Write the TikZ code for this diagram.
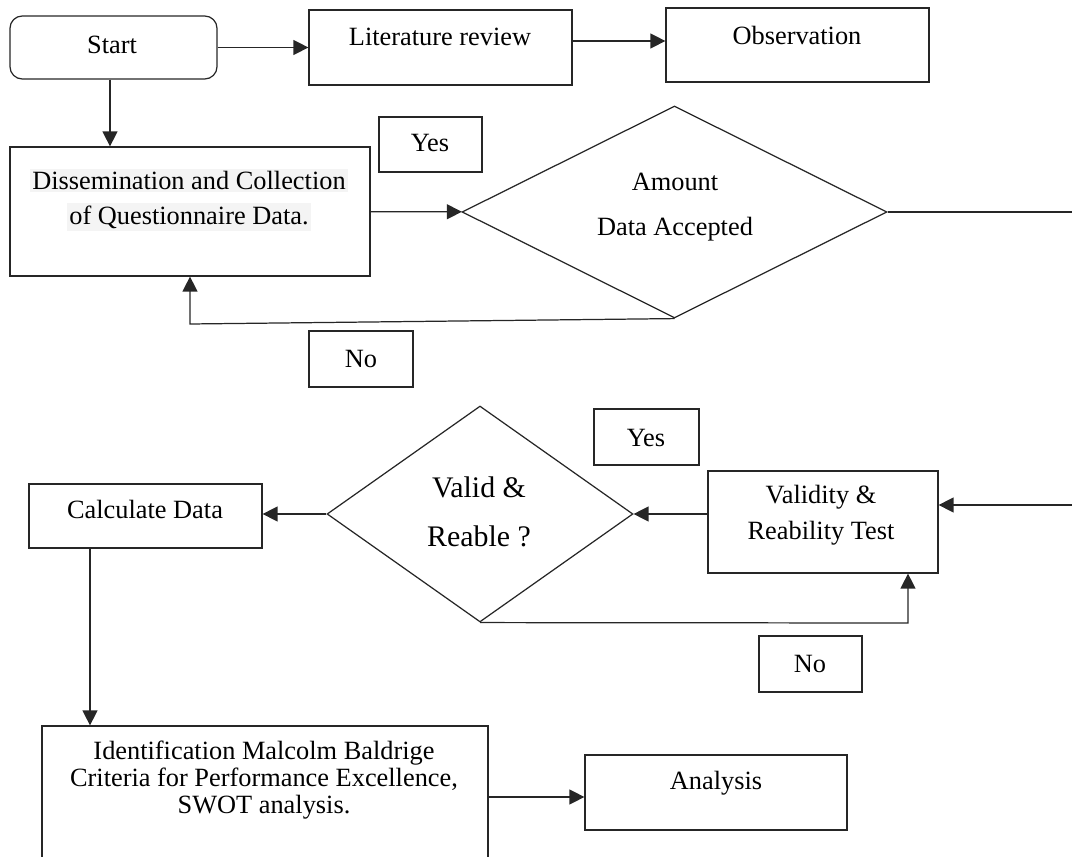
\documentclass[tikz,border=0pt]{standalone}
\usepackage{fontspec}
\setmainfont{Liberation Serif}
\usetikzlibrary{shapes.geometric,fit,arrows.meta}
\definecolor{realce}{RGB}{244,244,244}
\setlength{\fboxsep}{1.5pt}

\begin{document}
\begin{tikzpicture}[x=0.02cm, y=-0.02cm, >={Triangle[length=8.5pt,width=8.5pt]},
    caixa/.style={draw=black!85, rectangle, inner sep=0pt, line width=0.7pt},
    losango/.style={draw=black!85, diamond, inner sep=0pt, line width=0.7pt},
    texto/.style={font=\fontsize{15}{18}\selectfont, align=center, inner sep=0pt},
    seta/.style={->, draw=black!85, line width=0.7pt}]
    \clip (0,0) rectangle (1072,857);

    % Linha de cima
    \node[caixa, rounded corners=7pt, fit={(10,16) (217,79)}] (start) {};
    \node[texto] (start-t) at (112,45) {Start};
    \node[caixa, fit={(309,10) (572,85)}] (lit) {};
    \node[texto] (lit-t) at (440,37) {Literature review};
    \node[caixa, fit={(666,8) (929,82)}] (obs) {};
    \node[texto] (obs-t) at (797,35) {Observation};

    % Questionário e decisão
    \node[caixa, fit={(10,147) (370,276)}] (diss) {};
    \node[texto, font=\fontsize{15}{19.8}\selectfont] (diss-t) at (189,200)
        {\colorbox{realce}{Dissemination and Collection}\\\colorbox{realce}{of Questionnaire Data.}};
    \node[losango, minimum width=8.5cm, minimum height=4.24cm] (amount) at (674.5,212) {};
    \node[texto, font=\fontsize{15}{25.5}\selectfont] (amount-t) at (675,207) {Amount\\Data Accepted};
    \node[caixa, fit={(379,117) (482,172)}] (yes1) {};
    \node[texto] (yes1-t) at (430,143) {Yes};
    \node[caixa, fit={(309,331) (413,387)}] (no1) {};
    \node[texto] (no1-t) at (361,359) {No};

    % Validade e confiabilidade
    \node[caixa, fit={(29,484) (262,548)}] (calc) {};
    \node[texto] (calc-t) at (145,509) {Calculate Data};
    \node[losango, minimum width=6.12cm, minimum height=4.32cm] (valid) at (480,514) {};
    \node[texto, font=\fontsize{17}{28}\selectfont] (valid-t) at (479,512) {Valid \&\\Reable ?};
    \node[caixa, line width=1.4pt, fit={(594,409) (699,465)}] (yes2) {};
    \node[texto] (yes2-t) at (646,438) {Yes};
    \node[caixa, fit={(708,471) (938,573)}] (valtest) {};
    \node[texto, font=\fontsize{15}{20.4}\selectfont] (valtest-t) at (821,515) {Validity \&\\Reability Test};
    \node[caixa, fit={(759,636) (862,692)}] (no2) {};
    \node[texto] (no2-t) at (810,664) {No};

    % Linha de baixo
    \node[caixa, fit={(42,726) (488,880)}] (ident) {};
    \node[texto, font=\fontsize{15}{15.6}\selectfont] (ident-t) at (264,780)
        {Identification Malcolm Baldrige\\Criteria for Performance Excellence,\\SWOT analysis.};
    \node[caixa, fit={(585,755) (847,830)}] (analysis) {};
    \node[texto] (analysis-t) at (716,783) {Analysis};

    % Pontos livres
    \coordinate (out1) at (1072,212);
    \coordinate (fb1) at (190,324);
    \coordinate (in2) at (1072,505);
    \coordinate (fb2) at (908,623);

    % Setas
    \draw[seta] (start) -- (lit);
    \draw[seta] (lit.east |- 0,41) -- (obs.west |- 0,41);
    \draw[seta] (start.south -| 110,0) -- (diss.north -| 110,0);
    \draw[seta] (diss) -- (amount);
    \draw[draw=black!85, line width=0.7pt] (amount.east) -- (out1);
    \draw[seta] (amount.south) -- (fb1) -- (fb1 |- diss.south);
    \draw[seta] (in2) -- (in2 -| valtest.east);
    \draw[seta] (valtest.west |- valid.east) -- (valid.east);
    \draw[seta] (valid.west) -- (valid.west -| calc.east);
    \draw[seta] (valid.south) -- (fb2) -- (fb2 |- valtest.south);
    \draw[seta] (calc.south -| 90,0) -- (ident.north -| 90,0);
    \draw[seta] (ident.east |- 0,797) -- (analysis.west |- 0,797);
\end{tikzpicture}
\end{document}
